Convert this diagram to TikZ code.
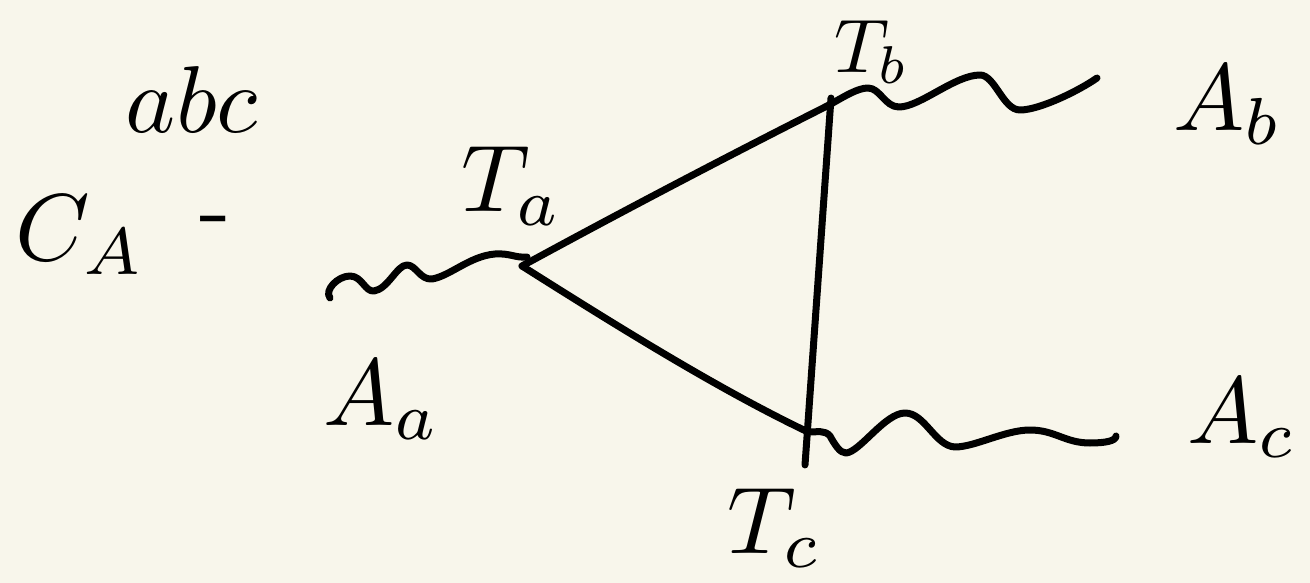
\documentclass[tikz,border=0pt]{standalone}
\usepackage{amsmath}
\definecolor{paper}{HTML}{F8F6EB}
\begin{document}
\begin{tikzpicture}[x=1pt,y=-1pt,
  ink/.style={line width=7pt,line cap=round,line join=round,black},
  lbl/.style={scale=9.5,inner sep=0pt}]
\fill[paper] (0,0) rectangle (1310,583);
\useasboundingbox (0,0) rectangle (1310,583);
% vertices
\coordinate (Ta) at (522,266);
\coordinate (Tb) at (831,104);
\coordinate (Tc) at (808,432);
\coordinate (Vtop) at (831,98);
\coordinate (Vbot) at (805,465);
\coordinate (Aaend) at (330,298);
\coordinate (Abend) at (1097,78);
\coordinate (Acend) at (1116,436);
% triangle
\draw[ink] (Ta) .. controls (610,218) and (720,160) .. (Tb);
\draw[ink] (Ta) .. controls (620,328) and (720,390) .. (Tc);
\draw[ink] (Vtop) -- (Vbot);
% wavy lines
\draw[ink] (Aaend) .. controls (324,290) and (338,276) .. (350,276)
  .. controls (362,276) and (365,292) .. (374,291)
  .. controls (388,289) and (397,265) .. (407,265)
  .. controls (416,265) and (420,280) .. (432,279)
  .. controls (450,276) and (470,256) .. (495,254)
  .. controls (510,253) and (515,258) .. (527,257);
\draw[ink] (Tb) .. controls (845,96) and (858,88) .. (868,88)
  .. controls (880,88) and (885,107) .. (899,107)
  .. controls (920,107) and (955,75) .. (980,75)
  .. controls (995,75) and (1003,110) .. (1020,110)
  .. controls (1040,110) and (1080,90) .. (Abend);
\draw[ink] (Tc) .. controls (818,432) and (825,430) .. (830,436)
  .. controls (835,445) and (840,453) .. (846,453)
  .. controls (860,452) and (885,413) .. (905,413)
  .. controls (925,413) and (935,446) .. (955,447)
  .. controls (975,447) and (1005,430) .. (1030,430)
  .. controls (1055,430) and (1065,443) .. (1090,443)
  .. controls (1105,443) and (1116,441) .. (Acend);
% labels
\node[lbl] (la) at (512,186) {$T_a$};
\node[lbl,scale=0.8] (lb) at (872,52) {$T_b$};
\node[lbl] (lc) at (775,528) {$T_c$};
\node[lbl] (laa) at (382,400) {$A_a$};
\node[lbl] (lab) at (1228,105) {$A_b$};
\node[lbl] (lac) at (1242,418) {$A_c$};
\node[lbl] (ca) at (80,235) {$C_A$};
\node[lbl] (sup) at (192,100) {$abc$};
\node[lbl] (dash) at (215,228) {-};
\end{tikzpicture}
\end{document}
